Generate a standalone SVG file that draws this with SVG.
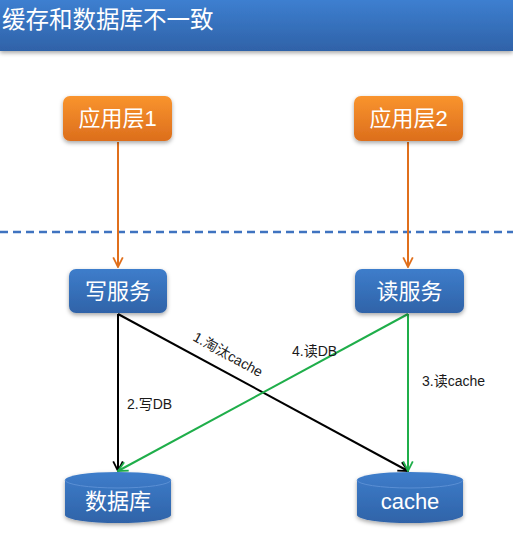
<svg xmlns="http://www.w3.org/2000/svg" width="513" height="544" viewBox="0 0 513 544">
<defs>
<linearGradient id="hdr" x1="0" y1="0" x2="0" y2="1"><stop offset="0" stop-color="#3d7fd0"/><stop offset="1" stop-color="#2f62a8"/></linearGradient>
<linearGradient id="org" x1="0" y1="0" x2="0" y2="1"><stop offset="0" stop-color="#f9942e"/><stop offset="1" stop-color="#dc6e1c"/></linearGradient>
<linearGradient id="blu" x1="0" y1="0" x2="0" y2="1"><stop offset="0" stop-color="#3e7dcb"/><stop offset="1" stop-color="#2f63a8"/></linearGradient>
<filter id="sh" x="-20%" y="-20%" width="140%" height="150%"><feDropShadow dx="0" dy="2" stdDeviation="2" flood-color="#000" flood-opacity="0.35"/></filter>
<marker id="ao" viewBox="0 0 10 10" refX="9" refY="5" markerWidth="6" markerHeight="6" orient="auto"><path d="M1,1 L9,5 L1,9" fill="none" stroke="#e06f1c" stroke-width="1.5"/></marker>
<marker id="ak" viewBox="0 0 10 10" refX="9" refY="5" markerWidth="6" markerHeight="6" orient="auto"><path d="M1,1 L9,5 L1,9" fill="none" stroke="#000" stroke-width="1.5"/></marker>
<marker id="ag" viewBox="0 0 10 10" refX="9" refY="5" markerWidth="6" markerHeight="6" orient="auto"><path d="M1,1 L9,5 L1,9" fill="none" stroke="#1fae4a" stroke-width="1.5"/></marker>
</defs>
<style>
.t{font-family:"Liberation Sans","Noto Sans CJK SC",sans-serif;fill:#fff;font-size:22px;text-anchor:middle}
.l{font-family:"Liberation Sans","Noto Sans CJK SC",sans-serif;fill:#1a1a1a;font-size:14px}
</style>
<rect width="513" height="544" fill="#fff"/>
<g id="header">
<rect x="0" y="0" width="513" height="51" fill="url(#hdr)" filter="url(#sh)"/>
<text x="2" y="28" style="font-family:'Liberation Sans','Noto Sans CJK SC',sans-serif;fill:#fff;font-size:23.5px">缓存和数据库不一致</text>
</g>
<line x1="0" y1="232" x2="513" y2="232" stroke="#3f73c0" stroke-width="2.5" stroke-dasharray="8,5"/>
<g id="connectors" fill="none" stroke-width="2">
<line x1="118" y1="142" x2="118" y2="267" stroke="#e06f1c" marker-end="url(#ao)"/>
<line x1="408" y1="142" x2="408" y2="267" stroke="#e06f1c" marker-end="url(#ao)"/>
<line x1="118" y1="314" x2="118" y2="471" stroke="#000" marker-end="url(#ak)"/>
<line x1="118" y1="314" x2="408" y2="471" stroke="#000" marker-end="url(#ak)"/>
<line x1="408" y1="314" x2="408" y2="471" stroke="#1fae4a" marker-end="url(#ag)"/>
<line x1="408" y1="314" x2="118" y2="471" stroke="#1fae4a" marker-end="url(#ag)"/>
<text class="l" transform="translate(192,340) rotate(29)">1.淘汰cache</text>
<text class="l" x="127" y="409">2.写DB</text>
<text class="l" x="422" y="386">3.读cache</text>
<text class="l" x="292" y="356">4.读DB</text>
</g>
<g id="app1"><rect x="63" y="96" width="109" height="45" rx="7" fill="url(#org)" filter="url(#sh)"/><text class="t" x="117.5" y="126">应用层1</text></g>
<g id="app2"><rect x="354" y="96" width="109" height="45" rx="7" fill="url(#org)" filter="url(#sh)"/><text class="t" x="408.5" y="126">应用层2</text></g>
<g id="write"><rect x="69" y="269" width="98" height="44" rx="7" fill="url(#blu)" filter="url(#sh)"/><text class="t" x="118" y="299">写服务</text></g>
<g id="read"><rect x="355" y="269" width="109" height="44" rx="7" fill="url(#blu)" filter="url(#sh)"/><text class="t" x="409.5" y="299">读服务</text></g>
<g id="db"><path d="M65,480 A53,8 0 0 1 171,480 L171,515 A53,8 0 0 1 65,515 Z" fill="url(#blu)" filter="url(#sh)"/><path d="M65,480 A53,8 0 0 0 171,480" fill="none" stroke="#5a8fd4" stroke-width="1"/><text class="t" x="118" y="509">数据库</text></g>
<g id="cache"><path d="M357,480 A53,8 0 0 1 463,480 L463,515 A53,8 0 0 1 357,515 Z" fill="url(#blu)" filter="url(#sh)"/><path d="M357,480 A53,8 0 0 0 463,480" fill="none" stroke="#5a8fd4" stroke-width="1"/><text class="t" x="410" y="509">cache</text></g>
</svg>
